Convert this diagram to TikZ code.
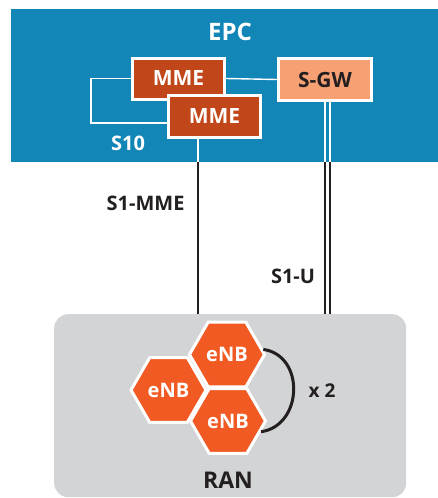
\documentclass[tikz,border=0pt]{standalone}
\usepackage{fontspec}
\setmainfont{Open Sans}
\usepackage{tikz}
\usetikzlibrary{positioning, shapes.geometric, calc}
\definecolor{epcblue}{RGB}{17, 134, 183}
\definecolor{mmered}{RGB}{193, 71, 26}
\definecolor{sgwsalmon}{RGB}{246, 160, 116}
\definecolor{enborange}{RGB}{241, 90, 34}
\definecolor{rangray}{RGB}{211, 212, 214}
\definecolor{inkdark}{RGB}{35, 31, 32}
\tikzset{
  unit/.style={draw=white, line width=3pt, fill=#1, inner sep=0pt,
               minimum width=92pt, minimum height=41pt,
               font=\fontsize{21}{23}\selectfont\bfseries},
  cell/.style={regular polygon, regular polygon sides=6, draw=white,
               line width=3pt, fill=enborange, inner sep=0pt,
               minimum size=75pt, text=white,
               font=\fontsize{20}{22}\selectfont\bfseries},
  wire/.style={line width=1.4pt, draw=#1},
  lbl/.style={font=\fontsize{20}{22}\selectfont\bfseries, text=inkdark},
}

\begin{document}
\begin{tikzpicture}[x=1pt, y=-1pt]
  \useasboundingbox (0,0) rectangle (438,498);

  % core network
  \node[fill=epcblue, minimum width=427pt, minimum height=153pt,
        inner sep=0pt, anchor=north west] (epc) at (11,9) {};
  \node[font=\fontsize{24}{26}\selectfont\bfseries, text=white]
    (epclbl) at (230,32) {EPC};

  % radio access network
  \node[fill=rangray, rounded corners=14pt, minimum width=352pt,
        minimum height=183pt, inner sep=0pt, anchor=north west]
    (ran) at (54,314) {};
  \node[lbl, font=\fontsize{23}{25}\selectfont\bfseries] (ranlbl)
    at (228,480) {RAN};

  \node[unit=mmered, text=white] (mme1) at (178.5,78.5) {MME};
  \node[unit=mmered, text=white, minimum height=42pt] (mme2)
    at (214.5,116.5) {MME};
  \node[unit=sgwsalmon, text=inkdark, minimum width=93pt,
        minimum height=42pt] (sgw) at (325,79.5) {S-GW};

  \draw[wire=white] (mme1.west) -- ++(-40,0) |- ([yshift=-6.5pt]mme2.west);
  \draw[wire=white] (mme1.east) -- (sgw.west);
  \node[lbl, text=white] (s10) at (128,143) {S10};

  % S1 interfaces
  \coordinate (mmefoot) at ([xshift=-16.5pt]mme2.south);
  \draw[wire=white] (mmefoot) -- (mmefoot |- epc.south);
  \draw[wire=inkdark] (mmefoot |- epc.south) -- (mmefoot |- ran.north);
  \foreach \dx/\nm in {0/a, 5/b} {
    \coordinate (sgwfoot\nm) at ([xshift=\dx pt]sgw.south);
    \draw[wire=white] (sgwfoot\nm) -- (sgwfoot\nm |- epc.south);
    \draw[wire=inkdark] (sgwfoot\nm |- epc.south) -- (sgwfoot\nm |- ran.north);
  }
  \node[lbl, anchor=east] (s1mme) at (188,203) {S1-MME};
  \node[lbl] (s1u) at (293,276) {S1-U};

  % base stations
  \node[cell] (enbT) at (227,354.5) {eNB};
  \node[cell] (enbL) at (168.5,390) {eNB};
  \node[cell] (enbB) at (228,421) {eNB};
  \draw[line width=3pt, inkdark] (enbT.8) .. controls +(42,6) and +(42,-6)
    .. (enbB.-18);
  \node[lbl, font=\fontsize{19}{21}\selectfont\bfseries] (times)
    at (322,391) {x 2};
\end{tikzpicture}
\end{document}
